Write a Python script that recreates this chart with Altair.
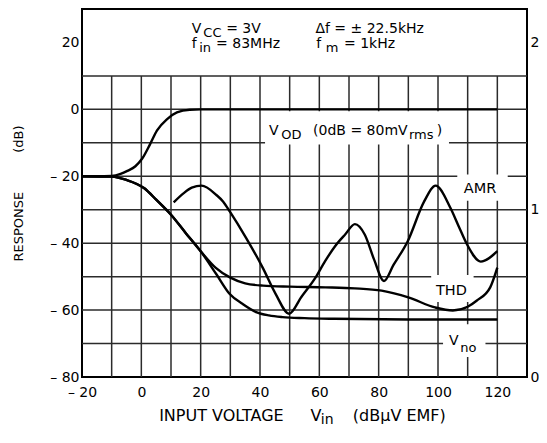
import altair as alt
import pandas as pd

# ---------------- data ----------------
# V_OD (dB)
vod_x = [-20, -15, -10, -7, -4.7, -2, 0.3, 3, 5.3, 8.7, 12, 16.3, 20, 40, 80, 120]
vod_y = [-20, -20, -19.9, -19.3, -18.4, -17, -14.7, -10.3, -6.3, -2.9, -0.9, -0.1, 0, 0, 0, 0]

# V_no (dB)
vno_x = [-20, -10, -5, 1, 5, 10, 15, 20, 25.3, 29.8, 34.2, 38.7, 43, 47.6, 55, 65, 90, 120]
vno_y = [-20, -20.1, -21.1, -23.6, -27, -31.5, -37, -42.4, -49.3, -55.2, -58.2, -60.6, -61.6, -62.1, -62.4, -62.6, -62.8, -62.8]

# AMR (dB)
amr_x = [10.9, 14.2, 17, 20.3, 25.3, 27.6, 29.8, 35.3, 40.9, 45.3, 49.8, 54, 58.7, 62, 65.3,
         68.7, 72, 75.3, 78.5, 81.8, 85, 89.8, 95.3, 99.2, 104.2, 107, 109.8, 114.4, 120]
amr_y = [-27.8, -25.1, -23.4, -22.8, -25.6, -27.6, -30.5, -38.4, -47.3, -55.2, -61.1, -56, -50.3, -45.3, -40.9,
         -37.4, -34.3, -37.4, -45, -51.3, -46.5, -39.4, -27.6, -22.8, -29.5, -35, -40.4, -45.5, -42.4]

# THD (%) on the right-hand axis
thd_x = [-20, -10, -5, 1, 5, 10, 15, 20, 25, 30, 35, 41, 50, 62, 72, 81, 90, 99, 105, 110, 113, 117.6, 120]
thd_pct = [1.2, 1.198, 1.178, 1.128, 1.06, 0.97, 0.86, 0.752, 0.654, 0.594, 0.56, 0.546, 0.54, 0.536,
           0.53, 0.516, 0.476, 0.416, 0.398, 0.42, 0.456, 0.536, 0.654]

# axes
x_ticks = [-20, 0, 20, 40, 60, 80, 100, 120]
y_ticks = [20, 0, -20, -40, -60, -80]
thd_ticks = [0, 1, 2]
x_grid = [-10, 0, 10, 20, 30, 40, 50, 60, 70, 80, 90, 100, 110, 120]
y_grid = [10, 0, -10, -20, -30, -40, -50, -60, -70]

# text pieces (x, y in data units)
ann_text = ["V", "CC", "= 3V", "\u0394f = \u00b1 22.5kHz",
            "f", "in", "= 83MHz", "f", "m", "= 1kHz",
            "V", "OD", "(0dB = 80mV", "rms", ")",
            "AMR", "THD", "V", "no",
            "INPUT VOLTAGE", "V", "in", "(dB\u03bcV EMF)"]
ann_x = [17.0, 20.9, 28.6, 58.67,
         17.0, 19.5, 25.2, 59.0, 62.2, 68.3,
         43.0, 47.2, 57.9, 90.2, 99.6,
         108.67, 99.33, 103.67, 107.5,
         6.0, 57.0, 60.5, 71.3]
ann_y = [22.83, 21.72, 22.83, 22.83,
         18.43, 17.24, 18.43, 18.43, 17.24, 18.43,
         -7.66, -8.71, -7.66, -8.71, -7.66,
         -25.0, -55.49, -70.43, -72.44,
         -93.15, -93.15, -94.05, -93.15]
ann_size = [14, 13, 14, 14,
            14, 13, 14, 14, 13, 14,
            14, 13, 14, 13, 14,
            14.5, 14.5, 14, 13,
            16, 16, 14, 16]

# white boxes behind the curve labels
box_x1 = [41.7, 106.5, 97.7, 101.7]
box_x2 = [103.7, 123.5, 112.0, 116.0]
box_y1 = [-0.6, -19.5, -49.5, -64.2]
box_y2 = [-10.5, -27.3, -57.6, -74.0]

# ---------------- chart ----------------
xs = alt.Scale(domain=[-20, 130], nice=False, zero=False)
ys = alt.Scale(domain=[-80, 30], nice=False, zero=False)
ts = alt.Scale(domain=[0, 2.2], nice=False, zero=False)
FONT = "DejaVu Sans"
GRID = "#2b2b2b"

neg_expr = "datum.value < 0 ? '\u2013 ' + abs(datum.value) : '' + datum.value"

AX_X = alt.Axis(
    values=x_ticks, labelExpr=neg_expr, ticks=False, domain=False, grid=False,
    labelPadding=8, labelFontSize=14, labelFlush=False, title=None, labelFont=FONT,
    labelColor="black")
AX_Y = alt.Axis(
    values=y_ticks, labelExpr=neg_expr, ticks=False, domain=False, grid=False,
    labelPadding=3, labelFontSize=14, labelFont=FONT, labelColor="black",
    title="RESPONSE\u2003\u2003\u2003(dB)", titleFont=FONT, titleFontSize=13,
    titleFontWeight="normal", titleColor="black", titleX=-60, titleBaseline="alphabetic")

vg = pd.DataFrame({"x": x_grid, "lo": -80, "hi": 10})
hg = pd.DataFrame({"y": y_grid, "lo": -20, "hi": 130})

grid_v = alt.Chart(vg).mark_rule(color=GRID, strokeWidth=1.5).encode(
    x=alt.X("x:Q", scale=xs, axis=AX_X),
    y=alt.Y("lo:Q", scale=ys, axis=AX_Y),
    y2="hi:Q",
)
grid_h = alt.Chart(hg).mark_rule(color=GRID, strokeWidth=1.5).encode(
    y=alt.Y("y:Q", scale=ys, axis=AX_Y),
    x=alt.X("lo:Q", scale=xs, axis=AX_X),
    x2="hi:Q",
)

boxes = alt.Chart(pd.DataFrame({"x1": box_x1, "x2": box_x2, "y1": box_y1, "y2": box_y2})).mark_rect(
    color="white"
).encode(
    x=alt.X("x1:Q", scale=xs, axis=AX_X), x2="x2:Q",
    y=alt.Y("y1:Q", scale=ys, axis=AX_Y), y2="y2:Q",
)

curves_df = pd.concat([
    pd.DataFrame({"series": "VOD", "x": vod_x, "y": vod_y}),
    pd.DataFrame({"series": "Vno", "x": vno_x, "y": vno_y}),
    pd.DataFrame({"series": "AMR", "x": amr_x, "y": amr_y}),
])

curves = alt.Chart(curves_df).mark_line(
    color="black", strokeWidth=2.4, interpolate="monotone"
).encode(
    x=alt.X("x:Q", scale=xs, axis=AX_X),
    y=alt.Y("y:Q", scale=ys, axis=AX_Y),
    detail="series:N",
)

texts = alt.Chart(pd.DataFrame({"x": ann_x, "y": ann_y, "t": ann_text, "s": ann_size})).mark_text(
    align="left", baseline="alphabetic", font=FONT, color="black"
).encode(
    x=alt.X("x:Q", scale=xs, axis=AX_X),
    y=alt.Y("y:Q", scale=ys, axis=AX_Y),
    text="t:N",
    size=alt.Size("s:Q", scale=None, legend=None),
)

inner = alt.layer(grid_v, grid_h, boxes, curves, texts)

thd = alt.Chart(pd.DataFrame({"x": thd_x, "thd": thd_pct})).mark_line(
    color="black", strokeWidth=2.4, interpolate="monotone"
).encode(
    x=alt.X("x:Q", scale=xs, axis=AX_X),
    y=alt.Y("thd:Q", scale=ts, axis=alt.Axis(
        orient="right", values=thd_ticks, ticks=False, domain=False, grid=False,
        labelPadding=3, labelFontSize=14, labelFont=FONT, labelColor="black", title=None)),
)

chart = alt.layer(inner, thd).resolve_scale(y="independent").properties(
    width=445, height=368,
    padding={"left": 74, "top": 1, "right": 12, "bottom": 51},
    autosize=alt.AutoSizeParams(type="none"),
).configure_view(stroke="black", strokeWidth=2)

chart.save("out.html", embed_options={"renderer": "svg", "actions": False})
